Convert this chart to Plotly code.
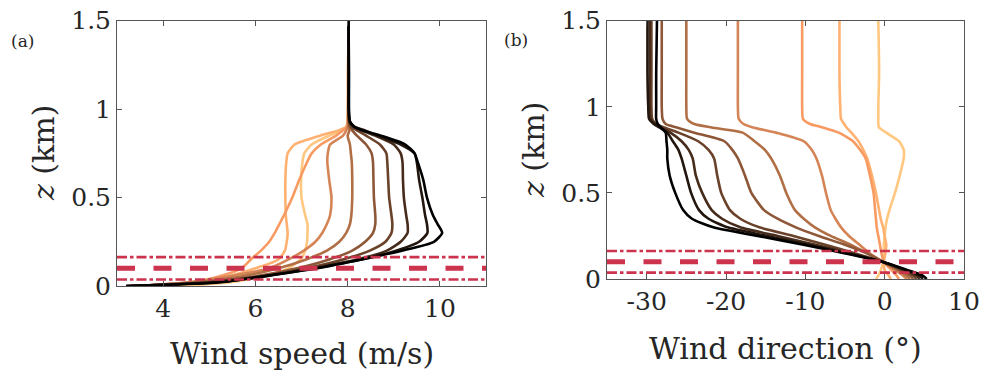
import plotly.graph_objects as go

# Heights of the profile samples (km)
Z_KM = [0, 0.02, 0.05, 0.1, 0.15, 0.2, 0.25, 0.3, 0.35, 0.4, 0.5, 0.6,
        0.7, 0.75, 0.8, 0.85, 0.88, 0.9, 0.93, 1.0, 1.2, 1.5]

# Horizontal wind speed (m/s), one profile per run (light -> dark)
SPEED_RUN0 = [4.3, 5.4, 6.05, 6.72, 6.98, 7.08, 7.12, 7.13, 7.13, 7.08, 7.0, 6.99,
              7.02, 7.06, 7.22, 7.6, 7.88, 7.98, 8.0, 8.01, 8.01, 8.02]
SPEED_RUN1 = [3.7, 4.7, 5.35, 6.0, 6.5, 6.64, 6.68, 6.7, 6.68, 6.66, 6.65, 6.65,
              6.67, 6.7, 6.85, 7.4, 7.8, 7.97, 8.0, 8.01, 8.01, 8.02]
SPEED_RUN2 = [3.6, 4.6, 5.15, 5.7, 5.9, 6.12, 6.3, 6.42, 6.52, 6.62, 6.8, 6.95,
              7.12, 7.22, 7.42, 7.75, 7.9, 7.98, 8.0, 8.01, 8.01, 8.02]
SPEED_RUN3 = [3.5, 4.5, 5.3, 6.3, 6.72, 7.05, 7.3, 7.45, 7.55, 7.62, 7.65, 7.6,
              7.56, 7.57, 7.62, 7.9, 7.97, 8.0, 8.01, 8.01, 8.02, 8.02]
SPEED_RUN4 = [3.4, 4.6, 5.6, 6.5, 7.1, 7.55, 7.82, 7.97, 8.05, 8.08, 8.1, 8.1,
              8.09, 8.07, 8.05, 8.0, 8.04, 8.02, 8.02, 8.02, 8.02, 8.02]
SPEED_RUN5 = [3.3, 4.8, 5.9, 6.9, 7.6, 8.1, 8.38, 8.55, 8.6, 8.6, 8.57, 8.56,
              8.55, 8.52, 8.4, 8.2, 8.1, 8.05, 8.03, 8.02, 8.02, 8.02]
SPEED_RUN6 = [3.3, 4.9, 6.0, 7.1, 7.9, 8.48, 8.82, 8.95, 8.97, 8.95, 8.9, 8.88,
              8.86, 8.84, 8.7, 8.4, 8.2, 8.08, 8.03, 8.02, 8.02, 8.02]
SPEED_RUN7 = [3.2, 5.0, 6.05, 7.2, 8.2, 8.85, 9.15, 9.3, 9.3, 9.27, 9.22, 9.2,
              9.19, 9.15, 9.0, 8.6, 8.3, 8.12, 8.04, 8.02, 8.02, 8.02]
SPEED_RUN8 = [3.2, 5.1, 6.1, 7.28, 8.3, 9.05, 9.55, 9.73, 9.72, 9.68, 9.62, 9.55,
              9.5, 9.45, 9.15, 8.65, 8.38, 8.15, 8.05, 8.02, 8.02, 8.02]
SPEED_RUN9 = [3.2, 5.2, 6.05, 7.34, 8.3, 9.18, 9.87, 10.05, 9.95, 9.85, 9.72, 9.64,
              9.52, 9.45, 9.25, 8.72, 8.32, 8.15, 8.05, 8.03, 8.03, 8.02]

# Wind direction (degrees), same runs
DIR_RUN0 = [-1.1, -0.8, -0.5, -0.2, -0.1, -0.1, 0.0, 0.1, 0.3, 0.6, 1.3, 1.9,
            2.4, 2.4, 1.8, 0.2, -0.7, -0.8, -0.8, -0.8, -0.7, -0.8]
DIR_RUN1 = [0.8, 0.5, 0.0, -0.1, 0.1, 0.2, 0.0, -0.2, -0.5, -0.7, -1.1, -1.6,
            -2.2, -2.7, -3.3, -4.2, -4.8, -5.1, -5.5, -5.6, -5.7, -5.7]
DIR_RUN2 = [1.8, 1.5, 0.9, -0.1, -0.4, -0.6, -0.8, -1.0, -1.1, -1.2, -1.4, -1.85,
            -2.4, -3.1, -4.0, -5.8, -7.8, -9.4, -10.3, -10.4, -10.4, -10.4]
DIR_RUN3 = [2.8, 2.3, 1.4, -0.3, -1.9, -3.2, -4.5, -5.5, -6.2, -6.8, -7.4, -7.9,
            -8.6, -9.2, -10.2, -13.7, -16.6, -17.8, -18.4, -18.5, -18.5, -18.5]
DIR_RUN4 = [3.2, 2.7, 1.7, -0.2, -2.2, -4.3, -6.8, -8.8, -10.2, -11.3, -12.4, -13.2,
            -14.3, -15.1, -16.4, -17.9, -21.8, -24.0, -24.9, -25.0, -25.0, -25.0]
DIR_RUN5 = [3.6, 3.2, 2.0, -0.2, -2.3, -5.1, -8.3, -11.2, -13.5, -15.2, -16.8, -17.6,
            -18.5, -19.2, -20.2, -24.0, -26.2, -27.6, -28.0, -28.1, -28.1, -28.1]
DIR_RUN6 = [4.0, 3.6, 2.3, -0.3, -3.8, -7.6, -11.5, -15.8, -18.2, -19.5, -20.6, -21.1,
            -21.5, -22.2, -23.5, -26.0, -27.8, -28.8, -29.3, -29.4, -29.4, -29.4]
DIR_RUN7 = [4.4, 4.0, 2.6, -0.3, -4.4, -8.9, -13.5, -18.2, -20.5, -21.8, -23.0, -23.8,
            -24.2, -24.7, -25.6, -27.0, -28.2, -28.9, -29.5, -29.6, -29.6, -29.6]
DIR_RUN8 = [4.8, 4.4, 2.8, -0.3, -4.8, -9.8, -14.8, -19.8, -22.2, -23.4, -24.4, -25.0,
            -25.6, -26.0, -26.7, -27.4, -28.4, -29.1, -29.7, -29.8, -29.9, -29.9]
DIR_RUN9 = [5.3, 4.8, 3.0, -0.3, -5.1, -10.4, -16.0, -21.6, -24.3, -25.4, -26.4, -27.1,
            -27.4, -27.4, -27.5, -27.6, -28.2, -28.6, -28.8, -28.8, -28.8, -28.7]

WIND_SPEED = [SPEED_RUN0, SPEED_RUN1, SPEED_RUN2, SPEED_RUN3, SPEED_RUN4,
              SPEED_RUN5, SPEED_RUN6, SPEED_RUN7, SPEED_RUN8, SPEED_RUN9]
WIND_DIRECTION = [DIR_RUN0, DIR_RUN1, DIR_RUN2, DIR_RUN3, DIR_RUN4,
                  DIR_RUN5, DIR_RUN6, DIR_RUN7, DIR_RUN8, DIR_RUN9]

# Copper colour scale, light to dark
RUN_COLORS = ["#FFC77F", "#FFB171", "#F89B63", "#D58555", "#B16F46",
              "#8E5838", "#6A422A", "#472C1C", "#23160E", "#000000"]

# Turbine rotor: bottom tip, hub, top tip (km)
ROTOR_LEVELS = [0.037, 0.1, 0.163]
ROTOR_STYLE = ["tip", "hub", "tip"]

SPEED_TICKS = [4, 6, 8, 10]
SPEED_TICK_TEXT = ["4", "6", "8", "10"]
DIR_TICKS = [-30, -20, -10, 0, 10]
DIR_TICK_TEXT = ["-30", "-20", "-10", "0", "10"]
Z_TICKS = [0, 0.5, 1, 1.5]
Z_TICK_TEXT = ["0", "0.5", "1", "1.5"]

W, H = 982, 373
SERIF = "'DejaVu Serif'"
TEXT = "#262626"
AXIS = "#555555"
ROTOR_RED = "#CC334D"


def fx(px):
    return px / W


def fy(py):
    return 1 - py / H


fig = go.Figure()

for i in range(len(WIND_SPEED)):
    fig.add_trace(go.Scatter(
        x=WIND_SPEED[i], y=Z_KM, mode="lines", xaxis="x", yaxis="y",
        line=dict(color=RUN_COLORS[i], width=2.6, shape="spline", smoothing=0.6),
        showlegend=False, hoverinfo="skip"))
for i in range(len(WIND_DIRECTION)):
    fig.add_trace(go.Scatter(
        x=WIND_DIRECTION[i], y=Z_KM, mode="lines", xaxis="x2", yaxis="y2",
        line=dict(color=RUN_COLORS[i], width=2.6, shape="spline", smoothing=0.6),
        showlegend=False, hoverinfo="skip"))

# Rotor extent markers across both panels
shapes = []
for xa, ya in (("x", "y"), ("x2", "y2")):
    for level, kind in zip(ROTOR_LEVELS, ROTOR_STYLE):
        if kind == "hub":
            line = dict(color=ROTOR_RED, width=5, dash="18px,18.5px")
        else:
            line = dict(color=ROTOR_RED, width=2.6, dash="10px,3px,3.5px,3px")
        shapes.append(dict(type="line", xref=f"{xa} domain", yref=ya,
                           x0=0, x1=1, y0=level, y1=level, line=line,
                           layer="above"))

axis_common = dict(
    showline=True, linecolor=AXIS, linewidth=1, mirror="ticks",
    ticks="inside", ticklen=5, tickcolor=AXIS, tickwidth=1,
    showgrid=False, zeroline=False, automargin=False,
    ticklabeloverflow="allow",
    tickfont=dict(family=SERIF, size=25, color=TEXT),
)

fig.update_layout(
    width=W, height=H,
    margin=dict(l=0, r=0, t=0, b=0),
    paper_bgcolor="white", plot_bgcolor="white",
    template="none",
    font=dict(family=SERIF, color=TEXT),
    xaxis=dict(domain=[fx(117), fx(486)], range=[3, 11], anchor="y",
               tickvals=SPEED_TICKS, ticktext=SPEED_TICK_TEXT, **axis_common),
    yaxis=dict(domain=[fy(286), fy(20.7)], range=[0, 1.5], anchor="x",
               tickvals=Z_TICKS, ticktext=Z_TICK_TEXT, **axis_common),
    xaxis2=dict(domain=[fx(607), fx(964)], range=[-35, 10], anchor="y2",
                tickvals=DIR_TICKS, ticktext=DIR_TICK_TEXT, **axis_common),
    yaxis2=dict(domain=[fy(279), fy(20.7)], range=[0, 1.5], anchor="x2",
                tickvals=Z_TICKS, ticktext=Z_TICK_TEXT, **axis_common),
    shapes=shapes,
)

title_font = dict(family=SERIF, size=30, color=TEXT)
panel_font = dict(family=SERIF, size=17, color=TEXT)
annotations = [
    dict(text="Wind speed (m/s)", x=fx(302), y=fy(353), font=title_font),
    dict(text="Wind direction (°)", x=fx(785), y=fy(348), font=title_font),
    dict(text="<i>z</i> (km)", x=fx(43), y=fy(153), textangle=-90, font=title_font),
    dict(text="<i>z</i> (km)", x=fx(533), y=fy(150), textangle=-90, font=title_font),
    dict(text="(a)", x=fx(22), y=fy(41), font=panel_font),
    dict(text="(b)", x=fx(516), y=fy(40), font=panel_font),
]
for a in annotations:
    a.update(xref="paper", yref="paper", showarrow=False,
             xanchor="center", yanchor="middle")
fig.update_layout(annotations=annotations)

fig.write_html("out.html")
